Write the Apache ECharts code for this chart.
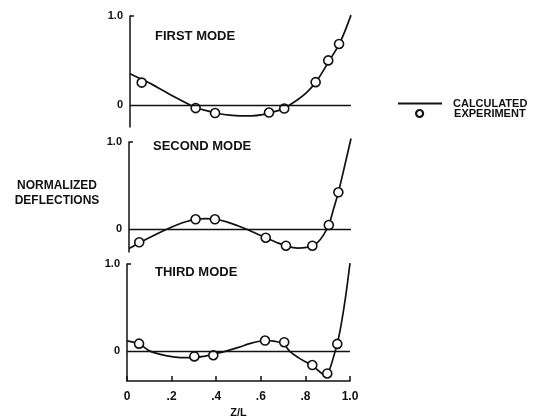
<!DOCTYPE html>
<html>
<head>
<meta charset="utf-8">
<script src="https://cdn.jsdelivr.net/npm/echarts@6/dist/echarts.min.js"></script>
<style>
  html, body { margin: 0; padding: 0; background: #fff; }
  #chart { width: 541px; height: 419px; }
</style>
</head>
<body>
<div id="chart"></div>
<script>
// Tick labels along Z/L and on each deflection axis
const xTickValues = [0, 0.2, 0.4, 0.6, 0.8, 1.0];
const xTickLabels = ['0', '.2', '.4', '.6', '.8', '1.0'];
const yTickValues = [0, 1.0];
const yTickLabels = ['0', '1.0'];

const modeTitles = ['FIRST MODE', 'SECOND MODE', 'THIRD MODE'];

// Calculated mode shapes [Z/L, normalized deflection]
const firstModeCalc = [
  [0, 0.35], [0.05, 0.29], [0.1, 0.23], [0.15, 0.16], [0.2, 0.09], [0.27, 0],
  [0.3, -0.033], [0.35, -0.068], [0.4, -0.098], [0.45, -0.117], [0.5, -0.125],
  [0.55, -0.124], [0.6, -0.11], [0.65, -0.08], [0.7, -0.04], [0.724, 0],
  [0.76, 0.06], [0.8, 0.14], [0.84, 0.25], [0.9, 0.49], [0.95, 0.7], [1.0, 1.01]
];
const secondModeCalc = [
  [0, -0.22], [0.05, -0.15], [0.1, -0.085], [0.17, 0], [0.22, 0.055], [0.26, 0.09],
  [0.3, 0.113], [0.345, 0.123], [0.39, 0.115], [0.44, 0.085], [0.49, 0.04],
  [0.53, 0], [0.57, -0.045], [0.616, -0.096], [0.66, -0.145], [0.707, -0.19],
  [0.76, -0.215], [0.8, -0.208], [0.826, -0.188], [0.85, -0.15], [0.875, -0.07],
  [0.9, 0.049], [0.92, 0.22], [0.943, 0.424], [0.97, 0.71], [1.0, 1.04]
];
const thirdModeCalc = [
  [0, 0.12], [0.054, 0.085], [0.1, 0.005], [0.15, -0.035], [0.2, -0.06],
  [0.25, -0.072], [0.3, -0.072], [0.35, -0.055], [0.4, -0.025], [0.44, 0],
  [0.5, 0.045], [0.55, 0.088], [0.6, 0.118], [0.62, 0.124], [0.66, 0.116],
  [0.7, 0.088], [0.73, 0], [0.77, -0.075], [0.8, -0.12], [0.83, -0.16],
  [0.86, -0.225], [0.885, -0.268], [0.9, -0.25], [0.915, -0.16], [0.93, -0.03],
  [0.943, 0.085], [0.96, 0.3], [0.98, 0.62], [1.0, 1.01]
];

// Measured deflections [Z/L, normalized deflection]
const firstModeExp = [
  [0.053, 0.25], [0.297, -0.037], [0.385, -0.093], [0.629, -0.087],
  [0.698, -0.042], [0.84, 0.255], [0.897, 0.5], [0.946, 0.685]
];
const secondModeExp = [
  [0.046, -0.149], [0.3, 0.115], [0.387, 0.115], [0.616, -0.096],
  [0.707, -0.188], [0.826, -0.188], [0.9, 0.049], [0.943, 0.424]
];
const thirdModeExp = [
  [0.054, 0.088], [0.302, -0.058], [0.387, -0.045], [0.619, 0.123],
  [0.705, 0.104], [0.831, -0.157], [0.898, -0.254], [0.943, 0.085]
];

const ink = '#111';
const boldFont = { fontFamily: 'Liberation Sans, Arial, sans-serif', fontWeight: 'bold', color: ink };

// panel layout: [left, top, width, height, yMin]
const panels = [
  { left: 130, top: 16, width: 221, height: 111, min: -0.25, calc: firstModeCalc, exp: firstModeExp },
  { left: 129, top: 142, width: 222, height: 110, min: -0.26, calc: secondModeCalc, exp: secondModeExp },
  { left: 127, top: 264, width: 223, height: 120, min: -0.34, calc: thirdModeCalc, exp: thirdModeExp }
];

function nearestLabel(values, labels, v) {
  let best = 0;
  values.forEach((t, i) => { if (Math.abs(t - v) < Math.abs(values[best] - v)) best = i; });
  return labels[best];
}

const grids = [], xAxes = [], yAxes = [], series = [];
panels.forEach((p, i) => {
  grids.push({ left: p.left, top: p.top, width: p.width, height: p.height, containLabel: false });
  const isBottom = i === panels.length - 1;
  xAxes.push({
    gridIndex: i, type: 'value', min: 0, max: 1,
    axisLine: { show: isBottom, onZero: false, lineStyle: { color: ink, width: 1.5 } },
    axisTick: { show: isBottom, inside: true, length: 5, customValues: xTickValues, lineStyle: { color: ink, width: 1.5 } },
    axisLabel: {
      show: isBottom, customValues: xTickValues, margin: 10, fontSize: 12, ...boldFont,
      formatter: v => nearestLabel(xTickValues, xTickLabels, v)
    },
    splitLine: { show: false },
    name: isBottom ? 'Z/L' : '', nameLocation: 'middle', nameGap: 26,
    nameTextStyle: { fontSize: 11, ...boldFont }
  });
  yAxes.push({
    gridIndex: i, type: 'value', min: p.min, max: 1.0,
    axisLine: { show: true, onZero: false, lineStyle: { color: ink, width: 1.5 } },
    axisTick: { show: true, inside: true, length: 4, customValues: [1.0], lineStyle: { color: ink, width: 1.5 } },
    axisLabel: {
      show: true, customValues: yTickValues, margin: 7, fontSize: 11, ...boldFont,
      formatter: v => nearestLabel(yTickValues, yTickLabels, v)
    },
    splitLine: { show: false }
  });
  series.push({
    name: 'CALCULATED', type: 'line', xAxisIndex: i, yAxisIndex: i,
    data: p.calc, smooth: 0.35, symbol: 'none', showSymbol: false, clip: false,
    lineStyle: { color: ink, width: 1.7 }, itemStyle: { color: ink },
    silent: true, z: 2,
    markLine: {
      silent: true, symbol: 'none', label: { show: false },
      lineStyle: { color: ink, width: 1.4, type: 'solid' },
      data: [{ yAxis: 0 }]
    }
  });
  series.push({
    name: 'EXPERIMENT', type: 'scatter', xAxisIndex: i, yAxisIndex: i,
    data: p.exp, symbol: 'circle', symbolSize: 9, clip: false,
    itemStyle: { color: '#fff', borderColor: ink, borderWidth: 1.6, opacity: 1 },
    silent: true, z: 3
  });
});

const titles = [
  { text: modeTitles[0], left: 155, top: 29 },
  { text: modeTitles[1], left: 153, top: 139 },
  { text: modeTitles[2], left: 155, top: 265 },
  { text: 'NORMALIZED\nDEFLECTIONS', left: 57, top: 178, textAlign: 'center' }
].map(t => ({
  text: t.text, left: t.left, top: t.top, textAlign: t.textAlign || 'left', padding: 0,
  textStyle: { fontSize: t.text.indexOf('\n') >= 0 ? 12 : 13, lineHeight: 15, ...boldFont }
}));

const legendText = { fontSize: 11, lineHeight: 11, ...boldFont };

const chart = echarts.init(document.getElementById('chart'), null, { renderer: 'canvas' });
chart.setOption({
  backgroundColor: '#fff',
  animation: false,
  title: titles,
  grid: grids,
  xAxis: xAxes,
  yAxis: yAxes,
  legend: [
    {
      data: [{ name: 'CALCULATED', icon: 'rect', itemStyle: { color: ink, borderWidth: 0 } }],
      left: 398, top: 98, orient: 'vertical', padding: 0,
      itemWidth: 44, itemHeight: 2, itemGap: 0, selectedMode: false,
      textStyle: { ...legendText, padding: [0, 0, 0, 6] }
    },
    {
      data: [{ name: 'EXPERIMENT', icon: 'circle', itemStyle: { color: '#fff', borderColor: ink, borderWidth: 2.2 } }],
      left: 415, top: 108, orient: 'vertical', padding: 0,
      itemWidth: 7, itemHeight: 7, itemGap: 0, selectedMode: false,
      textStyle: { ...legendText, padding: [0, 0, 0, 26] }
    }
  ],
  series: series
});
</script>
</body>
</html>
